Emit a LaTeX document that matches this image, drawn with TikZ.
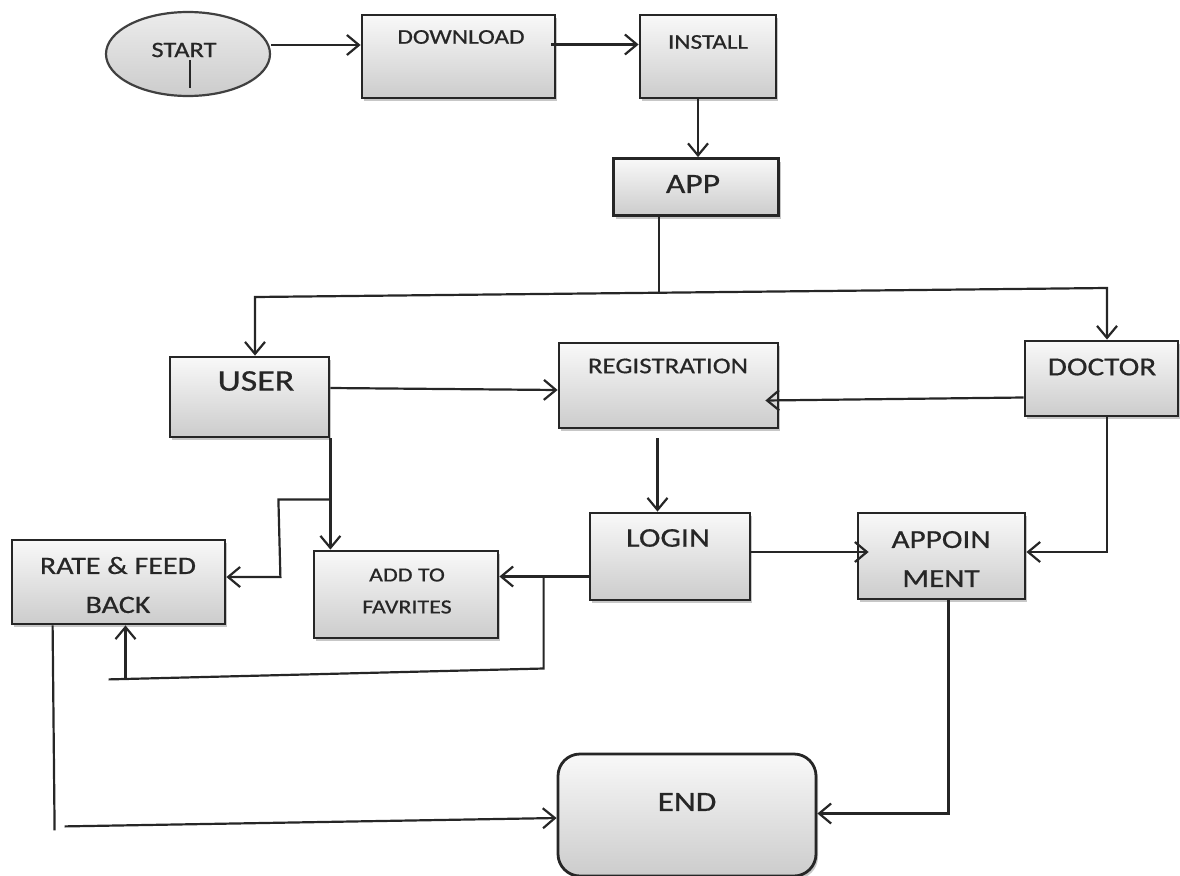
\documentclass[tikz,border=0pt]{standalone}
\usepackage{fontspec}
\setmainfont{Carlito}[FakeStretch=1.2,FakeBold=0.6]
\usetikzlibrary{arrows.meta,shapes.geometric,shadows,calc}
\begin{document}
\begin{tikzpicture}[x=1pt,y=-1pt,
  >={Straight Barb[length=12pt,width=20pt,line width=2.2pt]},
  link/.style={draw=black!85,line width=2.2pt},
  box/.style={draw=black!85,line width=2.8pt,top color=gray!5,bottom color=gray!40,
    drop shadow={shadow xshift=2pt,shadow yshift=-3pt,opacity=0.22,fill=black},inner sep=0pt},
  lbl/.style={font=\fontsize{26}{39}\selectfont,text=black!85,inner sep=0pt,align=center},
  slbl/.style={lbl,font=\fontsize{21}{32}\selectfont}]
\useasboundingbox (0,0) rectangle (1180,875);

% ---- shapes ----
\node[ellipse,draw=black!75,line width=2.2pt,top color=gray!15,bottom color=gray!40,
      minimum width=164pt,minimum height=84pt] (start) at (188,54) {};
\node[box,minimum width=193pt,minimum height=83pt] (download) at (458.5,56.5) {};
\node[box,minimum width=136pt,minimum height=83pt] (install) at (708,56.5) {};
\node[box,minimum width=165pt,minimum height=57pt] (app) at (696,187) {};
\node[box,minimum width=159pt,minimum height=80pt] (user) at (249.5,397) {};
\node[box,minimum width=219pt,minimum height=85pt] (reg) at (668.5,385.5) {};
\node[box,minimum width=153pt,minimum height=75pt] (doctor) at (1101.5,378.5) {};
\node[box,minimum width=160pt,minimum height=87pt] (login) at (670,556.5) {};
\node[box,minimum width=167pt,minimum height=86pt] (appoin) at (941.5,556) {};
\node[box,minimum width=213pt,minimum height=84pt] (rate) at (118.5,582) {};
\node[box,minimum width=184pt,minimum height=87pt] (fav) at (406,594.5) {};
\node[box,rounded corners=22pt,minimum width=258pt,minimum height=122pt] (end) at (687,815) {};

% ---- labels ----
\node[slbl,font=\fontsize{22}{30}\selectfont] (tstart) at (184,50) {START};
\node[slbl] (tdownload) at (461,37) {DOWNLOAD};
\node[slbl] (tinstall) at (708,42) {INSTALL};
\node[lbl,font=\fontsize{28}{34}\selectfont] (tapp) at (693,184) {APP};
\node[lbl,font=\fontsize{30}{34}\selectfont] (tuser) at (256,381) {USER};
\node[slbl,font=\fontsize{22.5}{30}\selectfont] (treg) at (668,366) {REGISTRATION};
\node[lbl] (tdoctor) at (1102,367) {DOCTOR};
\node[lbl,font=\fontsize{27}{34}\selectfont] (tlogin) at (668,538) {LOGIN};
\node[lbl] (tappoin) at (941,559) {APPOIN\\MENT};
\node[lbl,font=\fontsize{25}{39}\selectfont] (trate) at (118,585) {RATE \& FEED\\BACK};
\node[slbl,font=\fontsize{20}{32}\selectfont] (tfav) at (407,591) {ADD TO\\FAVRITES};
\node[lbl,font=\fontsize{28}{34}\selectfont] (tend) at (687,802) {END};

% small mark inside the start ellipse
\draw[link,line width=2.4pt] ($(start.center)+(2,6)$) -- ($(start.center)+(2,34)$);

% ---- connectors ----
\coordinate (s1) at ($(start.east)+(0,-9)$);
\draw[link,->] (s1) -- (s1 -| download.west);

\coordinate (d1) at ($(download.east)+(-5,-12)$);
\draw[link,->] (d1) -- (d1 -| install.west);

\coordinate (i1) at ($(install.south)+(-10,0)$);
\draw[link,->] (i1) -- (i1 |- app.north);

\coordinate (busM) at (659,292);
\coordinate (busL) at (255,297);
\coordinate (busR) at (1107,288);
\draw[link] (app.south -| busM) -- (busM);
\draw[link,<->] (busL |- user.north) -- (busL) -- (busR) -- (busR |- doctor.north);

\coordinate (u1) at ($(user.east)+(0,-9)$);
\draw[link,->] (u1) -- ($(u1 -| reg.west)+(0,2)$);

\coordinate (dr) at ($(doctor.west)+(0,19)$);
\draw[link,->] (dr) -- ($(dr -| reg.east)+(-14,3)$);

\coordinate (r1) at ($(reg.south)+(-11,9)$);
\draw[link,->] (r1) -- (r1 |- login.north);

\coordinate (ap) at ($(appoin.east)+(0,-4)$);
\draw[link,->] (login.east |- ap) -- ($(ap -| appoin.west)+(12,0)$);
\draw[link,->] (doctor.south -| busR) -- (busR |- ap) -- (ap);

\coordinate (e1) at ($(end.east)+(131,-1.5)$);
\draw[link,->] (appoin.south -| e1) -- (e1) -- (end.east |- e1);

% user branch to favourites and to rating
\draw[link,->] (user.south east) -- (user.south east |- fav.north);
\coordinate (ub) at ($(user.south east)+(0,61)$);
\coordinate (rf) at ($(rate.east)+(0,-5)$);
\draw[link,->] (ub) -- ($(ub)+(-52,0)$) -- ($(rf)+(54,0)$) -- (rf);

% login branch to favourites and back to rating
\coordinate (lf) at ($(login.west)+(0,20)$);
\draw[link,->] (lf) -- (lf -| fav.east);
\coordinate (lb) at ($(lf)+(-45,0)$);
\coordinate (lb2) at ($(lb)+(0,92)$);
\coordinate (lb3) at ($(rate.south west)+(98,54)$);
\draw[link] (lb) -- (lb2) -- (lb3);
\draw[link,->] ($(rate.south)+(7,54)$) -- ($(rate.south)+(7,0)$);

% rating to end
\coordinate (rb) at ($(rate.south west)+(44,205)$);
\draw[link] ($(rate.south west)+(42,0)$) -- (rb);
\draw[link,->] ($(rb)+(10,-4)$) -- ($(end.west)+(0,3)$);
\end{tikzpicture}
\end{document}
